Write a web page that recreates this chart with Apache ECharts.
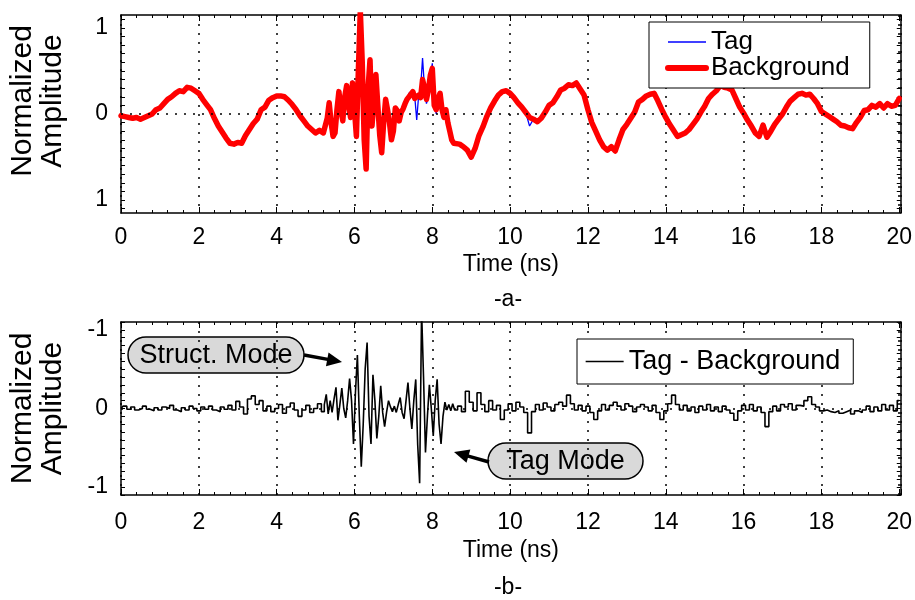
<!DOCTYPE html>
<html>
<head>
<meta charset="utf-8">
<script src="https://cdn.jsdelivr.net/npm/echarts@6/dist/echarts.min.js"></script>
<style>
  html, body { margin: 0; padding: 0; background: #fff; }
  #chart { width: 915px; height: 600px; }
</style>
</head>
<body>
<div id="chart"></div>
<script>
// Sampling grid (ns): coarse outside the burst, fine inside it.
const sampleSegments = [[0, 5.2, 0.1], [5.25, 8.6, 0.05], [8.7, 20.0, 0.1]];

// (a) received waveforms, normalized amplitude
const backgroundEarly = [
  -0.02, -0.03, -0.04, -0.05, -0.04, -0.06, -0.04, -0.02, 0.00, 0.05,
  0.07, 0.12, 0.17, 0.20, 0.24, 0.27, 0.26, 0.31, 0.30, 0.27,
  0.24, 0.17, 0.11, 0.05, -0.05, -0.14, -0.21, -0.28, -0.34, -0.35,
  -0.33, -0.34, -0.25, -0.18, -0.11, -0.06, 0.05, 0.08, 0.16, 0.19,
  0.21, 0.21, 0.20, 0.16, 0.11, 0.05, -0.02, -0.08, -0.14, -0.18,
  -0.22, -0.19, -0.22
];
const backgroundBurst = [
  -0.20, -0.05, 0.13, -0.10, -0.26, -0.22, 0.05, 0.26, 0.05, -0.08,
  0.20, 0.33, 0.10, -0.04, 0.36, 0.05, -0.26, 0.50, 1.20, 0.60,
  -0.30, -0.64, 0.30, 0.63, -0.14, 0.15, 0.46, 0.10, -0.25, -0.45,
  -0.10, 0.17, 0.05, -0.10, -0.30, -0.20, 0.07, 0.04, -0.08, 0.02,
  0.06, 0.12, 0.17, 0.20, 0.22, 0.26, 0.18, 0.17, 0.22, 0.19,
  0.40, 0.30, 0.17, 0.28, 0.45, 0.53, 0.10, 0.05, 0.18, 0.24,
  0.05, -0.04, 0.05, -0.10, -0.20, -0.30, -0.34, -0.34
];
const backgroundLate = [
  -0.35, -0.38, -0.42, -0.50, -0.40, -0.25, -0.15, -0.03, 0.07, 0.15,
  0.22, 0.26, 0.27, 0.24, 0.19, 0.13, 0.08, 0.02, -0.04, -0.06,
  -0.09, -0.05, 0.02, 0.10, 0.13, 0.20, 0.28, 0.30, 0.34, 0.33,
  0.36, 0.29, 0.22, 0.05, -0.10, -0.20, -0.30, -0.38, -0.42, -0.38,
  -0.43, -0.30, -0.18, -0.12, -0.05, 0.02, 0.14, 0.17, 0.21, 0.23,
  0.24, 0.15, 0.05, -0.04, -0.12, -0.19, -0.26, -0.24, -0.22, -0.18,
  -0.12, -0.06, 0.02, 0.09, 0.18, 0.23, 0.27, 0.33, 0.31, 0.30,
  0.28, 0.18, 0.08, 0.01, -0.07, -0.14, -0.22, -0.26, -0.13, -0.27,
  -0.20, -0.12, -0.06, 0.00, 0.08, 0.15, 0.19, 0.23, 0.24, 0.22,
  0.23, 0.18, 0.12, 0.03, 0.00, -0.03, -0.06, -0.09, -0.13, -0.14,
  -0.16, -0.17, -0.10, -0.04, 0.04, 0.05, 0.10, 0.08, 0.12, 0.07,
  0.12, 0.09, 0.10, 0.18
];

const tagEarly = [
  -0.02, -0.03, -0.04, -0.05, -0.04, -0.06, -0.04, -0.02, 0.00, 0.05,
  0.07, 0.12, 0.17, 0.20, 0.24, 0.27, 0.26, 0.31, 0.30, 0.27,
  0.24, 0.17, 0.11, 0.05, -0.05, -0.14, -0.21, -0.28, -0.34, -0.35,
  -0.33, -0.34, -0.25, -0.18, -0.11, -0.07, 0.05, 0.08, 0.16, 0.19,
  0.21, 0.21, 0.20, 0.16, 0.11, 0.05, -0.02, -0.08, -0.14, -0.18,
  -0.22, -0.19, -0.22
];
const tagBurst = [
  -0.20, -0.05, 0.13, -0.10, -0.26, -0.22, 0.05, 0.26, 0.05, -0.08,
  0.20, 0.33, 0.10, -0.04, 0.39, 0.05, -0.26, 0.50, 1.20, 0.60,
  -0.30, -0.64, 0.30, 0.63, -0.14, 0.15, 0.46, 0.10, -0.25, -0.47,
  -0.10, 0.17, 0.05, -0.10, -0.30, -0.20, 0.07, 0.04, -0.08, 0.02,
  0.06, 0.12, 0.17, 0.24, 0.24, 0.28, 0.20, -0.07, 0.22, 0.30,
  0.65, 0.30, 0.12, 0.20, 0.40, 0.59, 0.20, 0.00, 0.22, 0.26,
  0.10, -0.02, -0.07, -0.08, -0.20, -0.30, -0.34, -0.34
];
const tagLate = [
  -0.35, -0.38, -0.42, -0.53, -0.40, -0.25, -0.15, -0.03, 0.07, 0.15,
  0.22, 0.26, 0.27, 0.24, 0.19, 0.13, 0.08, 0.02, -0.14, -0.06,
  -0.09, -0.05, 0.02, 0.10, 0.13, 0.20, 0.28, 0.30, 0.34, 0.33,
  0.36, 0.29, 0.22, 0.05, -0.10, -0.20, -0.30, -0.38, -0.42, -0.38,
  -0.45, -0.30, -0.18, -0.12, -0.05, 0.02, 0.14, 0.17, 0.21, 0.23,
  0.24, 0.15, 0.05, -0.04, -0.12, -0.19, -0.28, -0.24, -0.22, -0.18,
  -0.12, -0.06, 0.02, 0.09, 0.18, 0.23, 0.27, 0.33, 0.31, 0.30,
  0.28, 0.18, 0.08, 0.01, -0.07, -0.14, -0.22, -0.26, -0.13, -0.30,
  -0.20, -0.12, -0.06, 0.00, 0.08, 0.15, 0.19, 0.23, 0.24, 0.22,
  0.23, 0.18, 0.12, 0.03, 0.00, -0.03, -0.06, -0.09, -0.13, -0.14,
  -0.16, -0.17, -0.10, -0.04, 0.04, 0.05, 0.10, 0.08, 0.12, 0.07,
  0.12, 0.09, 0.10, 0.18
];

// (b) difference signal (axis drawn inverted: positive values point down)
const differenceEarly = [
  0.00, -0.03, 0.01, -0.02, 0.02, 0.00, -0.03, 0.01, 0.03, -0.01,
  0.02, -0.02, 0.00, -0.04, 0.02, 0.04, -0.01, 0.02, -0.03, 0.00,
  0.03, -0.02, 0.01, -0.03, 0.02, 0.04, -0.02, 0.01, -0.04, 0.02,
  -0.09, -0.02, 0.07, -0.12, -0.16, -0.05, -0.10, 0.03, -0.03, 0.04,
  0.00, -0.05, 0.06, -0.02, -0.07, 0.02, 0.10, 0.02, -0.04, 0.05,
  0.00, -0.06, 0.04
];
const differenceBurst = [
  -0.05, -0.18, 0.07, -0.10, 0.05, -0.12, -0.27, 0.15, -0.05, -0.26,
  0.00, 0.12, -0.10, -0.38, -0.10, 0.45, -0.20, -0.68, 0.10, 0.74,
  0.20, -0.50, -0.84, 0.10, 0.45, -0.43, -0.10, 0.38, 0.10, -0.29,
  0.05, 0.23, 0.05, -0.10, -0.02, 0.04, -0.03, 0.05, -0.05, -0.14,
  0.05, 0.13, -0.10, -0.33, 0.00, 0.26, -0.10, -0.37, 0.46, 0.95,
  -1.25, -0.40, 0.56, 0.10, -0.30, 0.00, 0.35, -0.10, -0.37, 0.20,
  0.45, 0.10, -0.08, 0.02, -0.05, 0.03, -0.06, 0.02
];
const differenceLate = [
  -0.03, 0.04, -0.22, -0.08, 0.03, -0.20, -0.05, 0.04, -0.10, 0.02,
  -0.04, 0.14, 0.02, -0.06, 0.03, -0.08, -0.02, 0.05, 0.31, 0.04,
  -0.05, 0.02, -0.07, -0.02, 0.03, -0.05, -0.08, -0.03, -0.17, -0.06,
  0.02, -0.04, 0.03, -0.03, 0.05, 0.14, 0.03, -0.05, 0.02, -0.04,
  -0.08, -0.03, 0.02, -0.06, -0.03, 0.04, -0.02, -0.05, -0.02, 0.03,
  -0.04, 0.05, 0.14, 0.03, -0.06, -0.17, -0.05, 0.02, -0.04, 0.03,
  -0.02, 0.05, -0.03, 0.02, -0.05, 0.03, -0.02, 0.04, -0.03, 0.02,
  0.06, 0.15, 0.03, -0.04, 0.02, -0.05, 0.03, -0.02, 0.05, 0.23,
  0.04, -0.03, 0.03, -0.05, -0.02, -0.06, 0.02, -0.04, -0.03, -0.10,
  -0.15, -0.05, -0.02, 0.03, 0.02, 0.04, 0.05, 0.03, 0.06, 0.04,
  0.02, 0.07, 0.03, 0.05, 0.02, -0.03, 0.04, -0.02, 0.03, -0.05,
  0.02, -0.04, 0.03, -0.10
];

// Axis ticks and their printed labels
const xTickStep = 2;
const yTickValues = [-1, 0, 1];
const topYTickLabels = ['1', '0', '1'];
const bottomYTickLabels = ['-1', '0', '-1'];
const yMinorTickValues = [-1.1, -1.0, -0.9, -0.8, -0.7, -0.6, -0.5, -0.4, -0.3, -0.2, -0.1, 0,
  0.1, 0.2, 0.3, 0.4, 0.5, 0.6, 0.7, 0.8, 0.9, 1.0, 1.1];

// Build the time axis from the segment list
const timeNs = [];
sampleSegments.forEach(([a, b, step]) => {
  const n = Math.round((b - a) / step);
  for (let i = 0; i <= n; i++) timeNs.push(+(a + i * step).toFixed(2));
});
const pair = (vals) => vals.map((v, i) => [timeNs[i], v]);
const tag = pair(tagEarly.concat(tagBurst, tagLate));
const background = pair(backgroundEarly.concat(backgroundBurst, backgroundLate));
const difference = pair(differenceEarly.concat(differenceBurst, differenceLate));

const FONT = "'Liberation Sans', Arial, sans-serif";
const frame = { color: '#000', width: 1.5 };
const dotted = { type: [2, 7], color: '#000', width: 1.5 };
const TAG_STYLE = { color: '#0000ff', width: 1.3 };
const BG_STYLE = { color: '#ff0000', width: 5.5, join: 'round', cap: 'round' };
const DIFF_STYLE = { color: '#000', width: 1.6 };

function xAxisPair(gridIndex, labelMargin, nameGap) {
  const base = {
    type: 'value', gridIndex, min: 0, max: 20.04, interval: xTickStep,
    axisLine: { show: true, onZero: false, lineStyle: frame },
    axisTick: { show: true, inside: true, length: 6, lineStyle: { color: '#000' } },
    minorTick: { show: true, splitNumber: 5, length: 3, lineStyle: { color: '#000' } }
  };
  return [
    Object.assign({}, base, {
      position: 'bottom',
      axisLabel: {
        margin: labelMargin, fontSize: 23, color: '#000', fontFamily: FONT,
        formatter: (v) => Math.abs(v - Math.round(v)) < 1e-6 ? String(Math.round(v)) : ''
      },
      splitLine: { show: true, lineStyle: dotted },
      name: 'Time (ns)', nameLocation: 'middle', nameGap,
      nameTextStyle: { fontSize: 23, color: '#000', fontFamily: FONT }
    }),
    Object.assign({}, base, {
      position: 'top', axisLabel: { show: false }, splitLine: { show: false }
    })
  ];
}

function yAxisPair(gridIndex, range, inverse, labels, labelPadding, namePadding) {
  const base = {
    type: 'value', gridIndex, min: -range, max: range, inverse,
    axisLine: { show: true, onZero: false, lineStyle: frame },
    axisTick: { show: true, inside: true, length: 4, customValues: yMinorTickValues, lineStyle: { color: '#000' } },
    splitLine: { show: false }
  };
  return [
    Object.assign({}, base, {
      position: 'left',
      axisLabel: {
        customValues: yTickValues, margin: 13, fontSize: 23, color: '#000', fontFamily: FONT,
        padding: labelPadding,
        formatter: (v) => labels[yTickValues.indexOf(Math.round(v))]
      },
      name: 'Normalized\nAmplitude', nameLocation: 'middle', nameGap: 53, nameRotate: 90,
      nameTextStyle: { fontSize: 30, lineHeight: 30, color: '#000', fontFamily: FONT, padding: namePadding }
    }),
    Object.assign({}, base, { position: 'right', axisLabel: { show: false } })
  ];
}

function arrow(x1, y1, x2, y2) {
  const dx = x2 - x1, dy = y2 - y1, L = Math.hypot(dx, dy);
  const ux = dx / L, uy = dy / L, hl = 15, hw = 7;
  const bx = x2 - ux * hl, by = y2 - uy * hl;
  return [
    { type: 'line', shape: { x1, y1, x2: bx + ux * 2, y2: by + uy * 2 }, style: { stroke: '#000', lineWidth: 3.5 } },
    { type: 'polygon', shape: { points: [[x2, y2], [bx - uy * hw, by + ux * hw], [bx + uy * hw, by - ux * hw]] }, style: { fill: '#000' } }
  ];
}

function bubble(x, y, w, h, text) {
  return [
    { type: 'rect', shape: { x, y, width: w, height: h, r: h / 2 }, style: { fill: '#d9d9d9', stroke: '#000', lineWidth: 1.5 } },
    { type: 'text', x: x + w / 2, y: y + h / 2 + 1,
      style: { text, fontSize: 27, fontFamily: FONT, fill: '#000', align: 'center', verticalAlign: 'middle' } }
  ];
}

const zeroLine = {
  silent: true, symbol: 'none', label: { show: false },
  lineStyle: dotted, data: [{ yAxis: 0 }]
};

const legendBox = {
  orient: 'vertical', itemGap: 0, itemWidth: 38,
  borderColor: '#000', borderWidth: 1, backgroundColor: '#fff', selectedMode: false,
  itemStyle: { opacity: 0 }
};

const option = {
  animation: false,
  backgroundColor: '#fff',
  grid: [
    { left: 118, right: 7, top: 15, height: 198 },
    { left: 118, right: 7, top: 322, height: 173 }
  ],
  xAxis: xAxisPair(0, 13, 40).concat(xAxisPair(1, 16, 44)),
  yAxis: yAxisPair(0, 1.15, false, topYTickLabels, [4, 0, 0, 0], [0, 0, 0, 26]).concat(
         yAxisPair(1, 1.1, true, bottomYTickLabels, [8, 0, 0, 0], 0)),
  legend: [
    Object.assign({}, legendBox, {
      data: [
        { name: 'Tag', lineStyle: { width: TAG_STYLE.width } },
        { name: 'Background', lineStyle: { width: 6 } }
      ],
      left: 649, top: 22,
      padding: [7, 20, 7, 16], itemHeight: 22,
      textStyle: { fontSize: 26, lineHeight: 22, color: '#000', fontFamily: FONT }
    }),
    Object.assign({}, legendBox, {
      data: [{ name: 'Tag - Background', lineStyle: { width: 1.3 } }],
      left: 577, top: 339,
      padding: [9, 13, 9, 8], itemHeight: 26,
      textStyle: { fontSize: 27, lineHeight: 27, color: '#000', fontFamily: FONT }
    })
  ],
  series: [
    {
      name: 'Tag', type: 'line', xAxisIndex: 0, yAxisIndex: 0, data: tag,
      symbol: 'none', z: 2,
      lineStyle: TAG_STYLE, itemStyle: { color: TAG_STYLE.color },
      markLine: zeroLine
    },
    {
      name: 'Background', type: 'line', xAxisIndex: 0, yAxisIndex: 0, data: background,
      symbol: 'none', z: 3,
      lineStyle: BG_STYLE, itemStyle: { color: BG_STYLE.color }
    },
    {
      name: 'Tag - Background', type: 'line', xAxisIndex: 2, yAxisIndex: 2, data: difference,
      symbol: 'none', step: 'middle', z: 3,
      lineStyle: DIFF_STYLE, itemStyle: { color: DIFF_STYLE.color },
      markLine: zeroLine
    }
  ],
  graphic: [
    { type: 'text', x: 508, y: 300, style: { text: '-a-', fontSize: 23, fontFamily: FONT, fill: '#000', align: 'center', verticalAlign: 'middle' } },
    { type: 'text', x: 508, y: 588, style: { text: '-b-', fontSize: 23, fontFamily: FONT, fill: '#000', align: 'center', verticalAlign: 'middle' } }
  ].concat(
    bubble(128, 337, 176, 36, 'Struct. Mode'),
    arrow(304, 355, 342, 362),
    bubble(488, 443, 155, 36, 'Tag Mode'),
    arrow(489, 462, 454, 452)
  )
};

const chart = echarts.init(document.getElementById('chart'), null, { renderer: 'canvas' });
chart.setOption(option);
</script>
</body>
</html>
